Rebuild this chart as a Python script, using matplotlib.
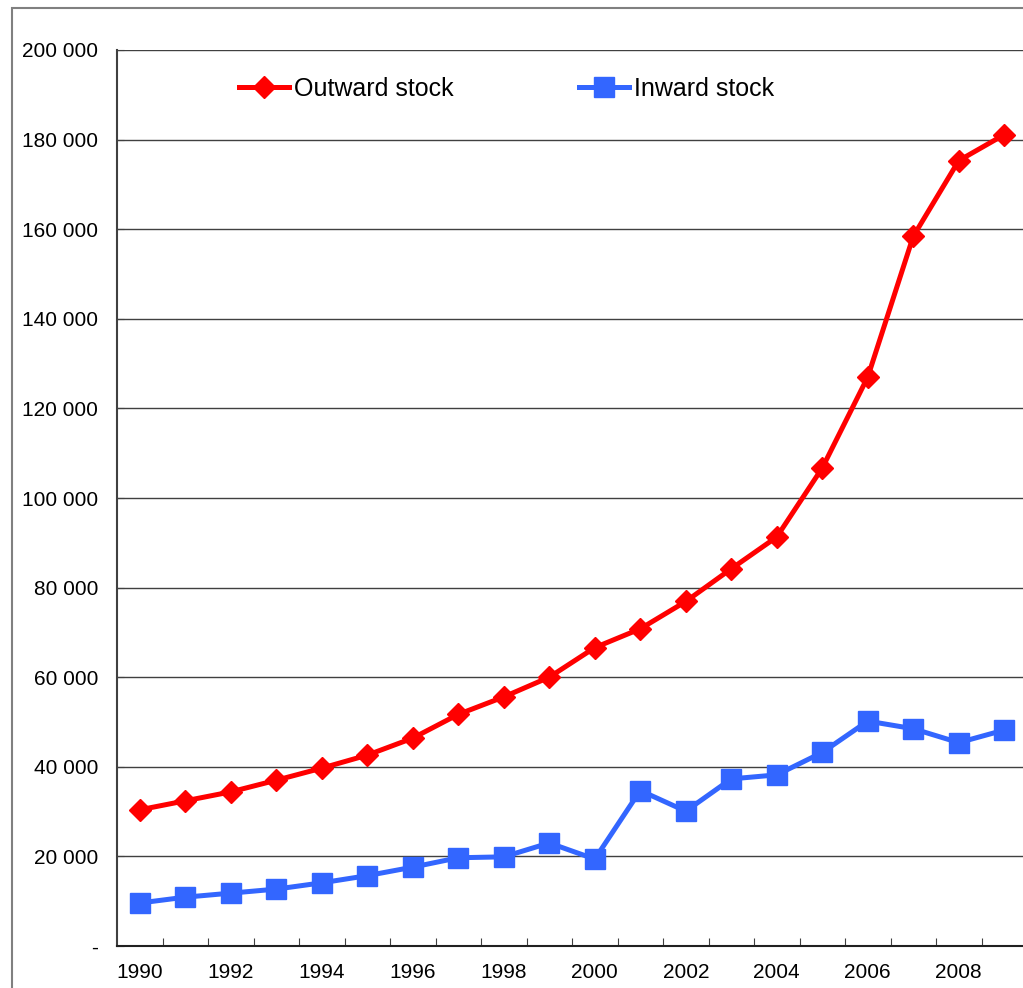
import matplotlib
matplotlib.use("Agg")
import matplotlib.pyplot as plt
from matplotlib.patches import Rectangle
from matplotlib.ticker import FuncFormatter, FixedLocator

plt.rcParams['font.family'] = ['Liberation Sans', 'DejaVu Sans']

years = list(range(1990, 2010))
outward = [30.4, 32.4, 34.4, 37.0, 39.7, 42.6, 46.4, 51.7, 55.6, 60.0,
           66.6, 70.8, 76.9, 84.2, 91.3, 106.7, 127.0, 158.4, 175.3, 181.1]
inward = [9.6, 10.9, 11.8, 12.7, 14.1, 15.7, 17.6, 19.7, 19.9, 23.0,
          19.4, 34.7, 30.1, 37.3, 38.2, 43.2, 50.2, 48.5, 45.4, 48.2]
outward = [v * 1000 for v in outward]
inward = [v * 1000 for v in inward]
yticks = list(range(0, 200001, 20000))

W, H = 1023, 988
fig = plt.figure(figsize=(W / 100, H / 100), dpi=100)

# outer chart border (cut off at right and bottom)
fig.patches.append(Rectangle((12 / W, -0.05), 1.2, 1 - 8 / H + 0.05,
                             transform=fig.transFigure, fill=False,
                             edgecolor='#808080', lw=1.5))

ax = fig.add_axes([117 / W, 42 / H, 910 / W, 896 / H])
x = list(range(len(years)))

ax.plot(x, outward, color='#FF0000', lw=3.6, marker='D', ms=11.5,
        label='Outward stock', zorder=3)
ax.plot(x, inward, color='#3366FF', lw=3.6, marker='s', ms=14,
        label='Inward stock', zorder=3)

ax.set_xlim(-0.5, len(years) - 0.5)
ax.set_ylim(0, 200000)

ax.set_yticks(yticks)
ax.yaxis.set_major_formatter(FuncFormatter(
    lambda v, p: '-' if v == 0 else f'{int(v):,}'.replace(',', ' ')))
ax.grid(axis='y', color='#404040', lw=1)
ax.set_axisbelow(True)

# category ticks between years, labels every second year
ax.xaxis.set_major_locator(FixedLocator([i + 0.5 for i in x[:-1]]))
ax.xaxis.set_major_formatter(FuncFormatter(lambda v, p: ''))
ax.xaxis.set_minor_locator(FixedLocator(x[::2]))
ax.set_xticklabels([str(y) for y in years[::2]], minor=True)
ax.tick_params(axis='x', which='major', direction='in', length=6, color='#404040')
ax.tick_params(axis='x', which='minor', length=0, pad=12.5, labelsize=15)
ax.tick_params(axis='y', direction='in', length=5, pad=13.5, labelsize=15, color='#404040')

for s in ['top', 'right']:
    ax.spines[s].set_visible(False)
ax.spines['left'].set_color('#404040')
ax.spines['left'].set_linewidth(1.5)
ax.spines['bottom'].set_color('#202020')
ax.spines['bottom'].set_linewidth(1.5)

ax.legend(loc='center', bbox_to_anchor=(0.428, 0.957), ncol=2, frameon=False,
          fontsize=18, handlelength=2.0, handletextpad=0.2, columnspacing=5.0)

fig.savefig('out.png', dpi=100)
